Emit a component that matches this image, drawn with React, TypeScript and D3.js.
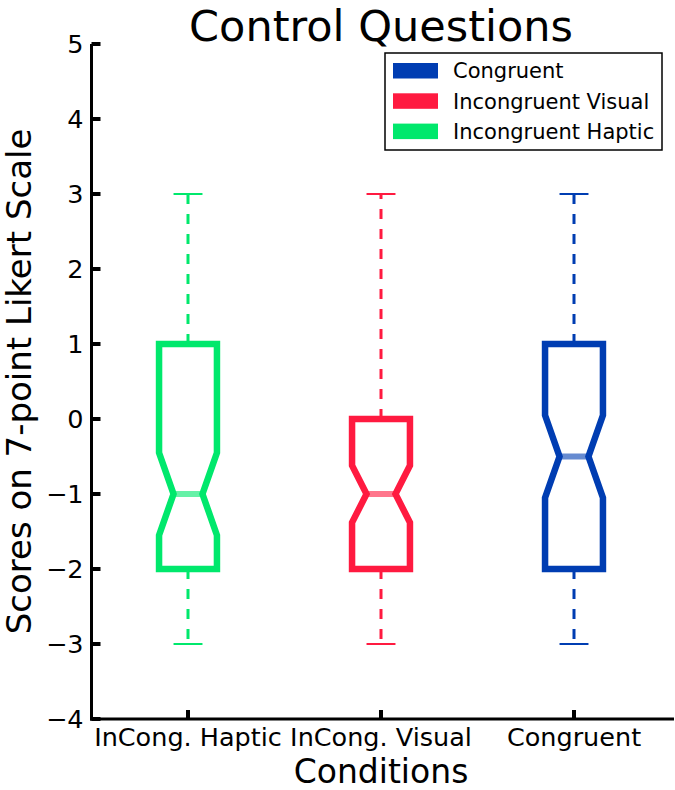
import React from "react";
import * as d3 from "d3";

const categories = ["InCong. Haptic", "InCong. Visual", "Congruent"];
const colors = ["#00e86c", "#ff1a40", "#003db2"];
const q1 = [-2, -2, -2];
const q3 = [1, 0, 1];
const medians = [-1, -1, -0.5];
const notchLo = [-1.55, -1.38, -1.05];
const notchHi = [-0.45, -0.62, 0.05];
const whiskerLo = [-3, -3, -3];
const whiskerHi = [3, 3, 3];
const yTicks = [5, 4, 3, 2, 1, 0, -1, -2, -3, -4];
const legendLabels = ["Congruent", "Incongruent Visual", "Incongruent Haptic"];
const legendColors = ["#003db2", "#ff1a40", "#00e86c"];

const W = 675;
const H = 790;
const left = 91.5;
const right = 670.5;
const top = 44;
const bottom = 719;
const font = "'DejaVu Sans', sans-serif";

export default function App() {
  const x = d3.scaleLinear().domain([0.5, 3.5]).range([left, right]);
  const y = d3.scaleLinear().domain([-4, 5]).range([bottom, top]);
  const boxHalf = (x(1.3) - x(1)) / 2; // width 0.3
  const capHalf = boxHalf / 2;

  const line = d3.line<[number, number]>();

  return (
    <svg width={W} height={H} style={{ position: "absolute", left: 0, top: 0 }} fontFamily={font}>
      <rect width={W} height={H} fill="#fff" />
      {categories.map((c, i) => {
        const cx = x(i + 1);
        const pts: [number, number][] = [
          [cx - boxHalf, y(q1[i])],
          [cx - boxHalf, y(notchLo[i])],
          [cx - boxHalf / 2, y(medians[i])],
          [cx - boxHalf, y(notchHi[i])],
          [cx - boxHalf, y(q3[i])],
          [cx + boxHalf, y(q3[i])],
          [cx + boxHalf, y(notchHi[i])],
          [cx + boxHalf / 2, y(medians[i])],
          [cx + boxHalf, y(notchLo[i])],
          [cx + boxHalf, y(q1[i])],
        ];
        return (
          <g key={c}>
            <line x1={cx} x2={cx} y1={y(q3[i])} y2={y(whiskerHi[i])} stroke={colors[i]} strokeWidth={3} strokeDasharray="10 10" />
            <line x1={cx} x2={cx} y1={y(q1[i])} y2={y(whiskerLo[i])} stroke={colors[i]} strokeWidth={3} strokeDasharray="10 10" />
            <line x1={cx - capHalf} x2={cx + capHalf} y1={y(whiskerHi[i])} y2={y(whiskerHi[i])} stroke={colors[i]} strokeWidth={2} />
            <line x1={cx - capHalf} x2={cx + capHalf} y1={y(whiskerLo[i])} y2={y(whiskerLo[i])} stroke={colors[i]} strokeWidth={2} />
            <path d={line(pts) + "Z"} fill="none" stroke={colors[i]} strokeWidth={6.5} strokeLinejoin="miter" />
            <line x1={cx - boxHalf / 2} x2={cx + boxHalf / 2} y1={y(medians[i])} y2={y(medians[i])} stroke={colors[i]} strokeOpacity={0.6} strokeWidth={6} />
          </g>
        );
      })}
      {/* spines */}
      <line x1={left} x2={left} y1={top} y2={bottom + 1.5} stroke="#000" strokeWidth={3} />
      <line x1={left - 1.5} x2={674} y1={bottom} y2={bottom} stroke="#000" strokeWidth={3} />
      {yTicks.map((t) => (
        <g key={t}>
          <line x1={left} x2={left + 9} y1={y(t)} y2={y(t)} stroke="#000" strokeWidth={4} />
          <text x={left - 8} y={y(t)} dy="0.36em" textAnchor="end" fontSize={25.5}>
            {t < 0 ? "\u2212" + Math.abs(t) : String(t)}
          </text>
        </g>
      ))}
      {categories.map((c, i) => (
        <g key={c}>
          <line x1={x(i + 1)} x2={x(i + 1)} y1={bottom} y2={bottom - 9} stroke="#000" strokeWidth={4} />
          <text x={x(i + 1)} y={746} textAnchor="middle" fontSize={25.5}>
            {c}
          </text>
        </g>
      ))}
      <text x={(left + right) / 2} y={782.5} textAnchor="middle" fontSize={33}>Conditions</text>
      <text transform={`translate(31, ${(top + bottom) / 2}) rotate(-90)`} textAnchor="middle" fontSize={34}>
        Scores on 7-point Likert Scale
      </text>
      <text x={(left + right) / 2} y={40.5} textAnchor="middle" fontSize={43}>Control Questions</text>
      {/* legend */}
      <rect x={385} y={53} width={277} height={97} fill="#fff" stroke="#000" strokeWidth={1.5} />
      {legendLabels.map((l, i) => (
        <g key={l}>
          <rect x={393} y={63 + i * 30.3} width={45} height={15.5} fill={legendColors[i]} />
          <text x={453} y={70.7 + i * 30.3} dy="0.36em" fontSize={21}>{l}</text>
        </g>
      ))}
    </svg>
  );
}
